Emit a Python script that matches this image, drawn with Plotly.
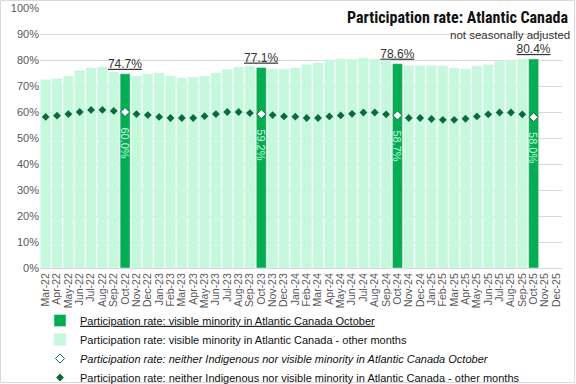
import plotly.graph_objects as go

months = ["Mar-22","Apr-22","May-22","Jun-22","Jul-22","Aug-22","Sep-22","Oct-22","Nov-22","Dec-22",
          "Jan-23","Feb-23","Mar-23","Apr-23","May-23","Jun-23","Jul-23","Aug-23","Sep-23","Oct-23","Nov-23","Dec-23",
          "Jan-24","Feb-24","Mar-24","Apr-24","May-24","Jun-24","Jul-24","Aug-24","Sep-24","Oct-24","Nov-24","Dec-24",
          "Jan-25","Feb-25","Mar-25","Apr-25","May-25","Jun-25","Jul-25","Aug-25","Sep-25","Oct-25","Nov-25","Dec-25"]

visible_minority = [72.4,72.8,73.8,75.9,76.9,77.3,75.4,74.7,73.8,74.6,
                    75.0,73.8,73.1,73.4,73.8,75.0,76.3,77.3,77.7,77.1,76.5,76.5,
                    76.9,78.2,78.9,79.9,80.4,80.3,80.8,80.4,79.9,78.6,77.8,77.8,
                    77.8,77.7,76.9,76.5,77.7,78.2,79.4,80.0,80.4,80.4,None,None]

neither = [58.1,58.6,59.2,60.0,60.8,60.8,60.4,60.0,59.2,58.8,
           58.1,57.7,57.7,57.7,58.4,59.2,60.0,60.0,59.6,59.2,58.8,58.3,
           58.2,57.7,57.7,58.3,58.7,59.3,59.8,59.8,59.1,58.7,57.7,57.7,
           57.3,57.0,57.0,57.4,58.3,59.1,59.8,59.8,59.1,58.0,None,None]

DARK = "#00B050"
LIGHT = "#C4F9DB"
DOT = "#0A6B3A"

is_oct = [m.startswith("Oct") for m in months]
vm_oct = [v if o else None for v, o in zip(visible_minority, is_oct)]
vm_oth = [None if o else v for v, o in zip(visible_minority, is_oct)]
ne_oct = [v if o else None for v, o in zip(neither, is_oct)]
ne_oth = [None if o else v for v, o in zip(neither, is_oct)]

W, H = 576, 384
L, R, T, B = 40, 14, 8, 116
PW, PH = W - L - R, H - T - B

fig = go.Figure()
fig.add_trace(go.Bar(
    x=months, y=vm_oct, marker_color=DARK,
    name="<u>Participation rate: visible minority in Atlantic Canada October</u>",
    text=[f"<u>{v:.1f}%</u>" if v is not None else "" for v in vm_oct],
    textposition="outside", cliponaxis=False, constraintext="none",
    textfont=dict(family="Liberation Sans, Arial", size=12, color="#333333"),
))
fig.add_trace(go.Bar(
    x=months, y=vm_oth, marker_color=LIGHT,
    name="Participation rate: visible minority in Atlantic Canada - other months",
))
fig.add_trace(go.Scatter(
    x=months, y=ne_oct, mode="markers",
    marker=dict(symbol="diamond", size=7, color="white", line=dict(color=DOT, width=1)),
    name="<i>Participation rate: neither Indigenous nor visible minority in Atlantic Canada October</i>",
))
fig.add_trace(go.Scatter(
    x=months, y=ne_oth, mode="markers",
    marker=dict(symbol="diamond", size=6, color=DOT),
    name="Participation rate: neither Indigenous nor visible minority in Atlantic Canada - other months",
))

for m, v in zip(months, ne_oct):
    if v is not None:
        fig.add_annotation(x=m, y=v, text=f"{v:.1f}%", textangle=90, showarrow=False,
                           xref="x", yref="y", yanchor="top", yshift=-13,
                           font=dict(family="Liberation Sans, Arial", size=11, color="#C4F9DB"))

fig.add_annotation(text="<b>Participation rate: Atlantic Canada</b>", xref="paper", yref="paper",
                   x=1 + 8 / PW, y=1.0, xanchor="right", yanchor="middle", yshift=-9, showarrow=False,
                   font=dict(family="Liberation Sans Narrow, Roboto Condensed, Arial", size=16, color="#111111"))
fig.add_annotation(text="not seasonally adjusted", xref="paper", yref="paper",
                   x=1 + 10 / PW, y=1.0, xanchor="right", yanchor="middle", yshift=-27, showarrow=False,
                   font=dict(family="Liberation Sans, Arial", size=11.5, color="#333333"))

# light chart-area border
fig.add_shape(type="rect", xref="paper", yref="paper",
              x0=-(L - 0.5) / PW, x1=1 + (R - 1.5) / PW,
              y0=-(B - 1.5) / PH, y1=1 + (T - 0.5) / PH,
              line=dict(color="#D9D9D9", width=1), fillcolor="rgba(0,0,0,0)", layer="below")

fig.update_layout(
    width=W, height=H,
    margin=dict(l=L, r=R, t=T, b=B, autoexpand=False),
    paper_bgcolor="white", plot_bgcolor="white",
    barmode="overlay", bargap=0.12,
    font=dict(family="Liberation Sans, Arial", size=11, color="#595959"),
    showlegend=True,
    legend=dict(x=0.0, y=-38 / PH, xanchor="left", yanchor="top", orientation="v",
                font=dict(family="Liberation Sans, Arial", size=11, color="#111111"),
                bgcolor="rgba(0,0,0,0)", tracegroupgap=0, itemwidth=30),
    xaxis=dict(type="category", categoryorder="array", categoryarray=months,
               range=[-0.5, len(months) - 0.5], autorange=False,
               tickmode="array", tickvals=months, ticktext=months,
               tickangle=-90, showgrid=False, linecolor="#D9D9D9", showline=True,
               ticks="", tickfont=dict(size=10.5, color="#595959")),
    yaxis=dict(range=[0, 100], dtick=10, ticksuffix="%", showgrid=True, gridcolor="#D9D9D9",
               zeroline=False, ticks="", tickfont=dict(size=11, color="#595959")),
)

fig.write_html("out.html", config={"displayModeBar": False},
               post_script="document.body.style.margin='0px';")
